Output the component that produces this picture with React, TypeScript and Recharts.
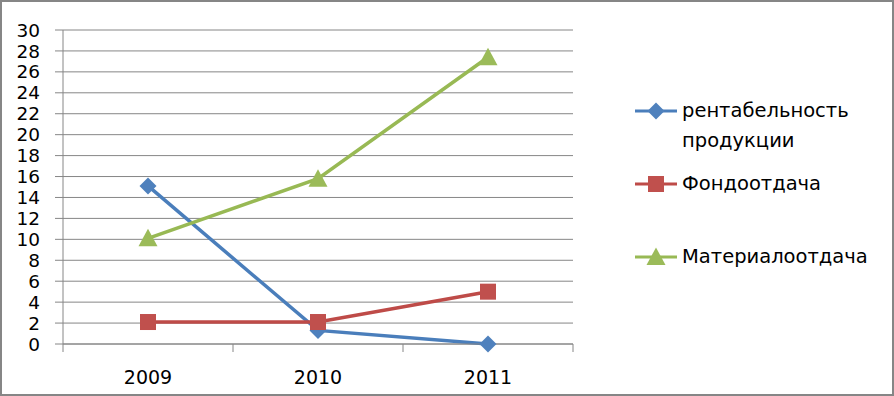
import React from 'react'
import { LineChart, Line, XAxis, YAxis, CartesianGrid } from 'recharts'

// ── Data ─────────────────────────────────────────────────────────────────────
const YEARS = ['2009', '2010', '2011']
const RENTAB = [15.1, 1.3, 0]
const FONDO = [2.1, 2.1, 5.0]
const MATERIAL = [10.1, 15.8, 27.4]
const Y_TICKS = [0, 2, 4, 6, 8, 10, 12, 14, 16, 18, 20, 22, 24, 26, 28, 30]

const NAME_RENTAB = ['рентабельность', 'продукции']
const NAME_FONDO = ['Фондоотдача']
const NAME_MATERIAL = ['Материалоотдача']

// ── Styling ──────────────────────────────────────────────────────────────────
const W = 894
const H = 396
const FONT = '"DejaVu Sans", sans-serif'
const GRID = '#868686'
const TICK_SIZE = 8

type Shape = 'diamond' | 'square' | 'triangle'

const SERIES: { key: string; name: string[]; stroke: string; fill: string; shape: Shape }[] = [
  { key: 'rentab', name: NAME_RENTAB, stroke: '#4A7EBB', fill: '#4F81BD', shape: 'diamond' },
  { key: 'fondo', name: NAME_FONDO, stroke: '#BE4B48', fill: '#C0504D', shape: 'square' },
  { key: 'material', name: NAME_MATERIAL, stroke: '#98B954', fill: '#9BBB59', shape: 'triangle' },
]

// legend rows (top of each entry) – Excel spaces them unevenly
const LEGEND_TOPS = [96, 169, 242]

const data = YEARS.map((year, i) => ({
  year,
  rentab: RENTAB[i],
  fondo: FONDO[i],
  material: MATERIAL[i],
}))

function Marker({ cx, cy, shape, fill }: { cx: number; cy: number; shape: Shape; fill: string }) {
  if (shape === 'diamond') {
    const r = 8.5
    return <polygon points={`${cx},${cy - r} ${cx + r},${cy} ${cx},${cy + r} ${cx - r},${cy}`} fill={fill} />
  }
  if (shape === 'square') {
    return <rect x={cx - 8} y={cy - 8} width={16} height={16} fill={fill} />
  }
  return <polygon points={`${cx},${cy - 9.5} ${cx + 9.5},${cy + 8} ${cx - 9.5},${cy + 8}`} fill={fill} />
}

// category labels centred in their band, tick marks on band edges
function YearTick(props: any) {
  const { x, y, payload, index, visibleTicksCount } = props
  const half = payload?.offset || 85
  const axisY = y - TICK_SIZE
  const last = index === (visibleTicksCount ?? YEARS.length) - 1
  return (
    <g>
      <line x1={x - half} x2={x - half} y1={axisY} y2={axisY + TICK_SIZE} stroke={GRID} />
      {last && <line x1={x + half} x2={x + half} y1={axisY} y2={axisY + TICK_SIZE} stroke={GRID} />}
      <text x={x} y={axisY + 40} textAnchor="middle" fontSize={19} fontFamily={FONT} fill="#000">
        {payload.value}
      </text>
    </g>
  )
}

function LegendBox() {
  return (
    <>
      {SERIES.map((s, i) => (
        <div
          key={s.key}
          style={{ position: 'absolute', left: 633, top: LEGEND_TOPS[i], display: 'flex', alignItems: 'flex-start' }}
        >
          <svg width={46} height={30} style={{ flex: 'none' }}>
            <line x1={2} x2={44} y1={15} y2={15} stroke={s.stroke} strokeWidth={3} />
            <Marker cx={23} cy={15} shape={s.shape} fill={s.fill} />
          </svg>
          <div style={{ fontFamily: FONT, fontSize: 19.5, lineHeight: '30px', color: '#000', marginLeft: 3 }}>
            {s.name.map((line) => (
              <div key={line}>{line}</div>
            ))}
          </div>
        </div>
      ))}
    </>
  )
}

export default function App() {
  return (
    <div
      style={{
        position: 'absolute',
        left: 0,
        top: 0,
        width: W,
        height: H,
        boxSizing: 'border-box',
        border: `2px solid ${GRID}`,
        background: '#fff',
      }}
    >
      <div style={{ position: 'absolute', left: -2, top: -2 }}>
        <LineChart width={W} height={H} data={data} margin={{ top: 30, right: 321, left: 0, bottom: 12 }}>
          <CartesianGrid vertical={false} stroke={GRID} strokeWidth={1} />
          <XAxis
            dataKey="year"
            scale="band"
            axisLine={{ stroke: GRID }}
            tickLine={false}
            tickSize={TICK_SIZE}
            tickMargin={0}
            height={40}
            tick={<YearTick />}
            interval={0}
          />
          <YAxis
            domain={[0, 30]}
            ticks={Y_TICKS}
            interval={0}
            width={63}
            axisLine={{ stroke: GRID }}
            tickLine={{ stroke: GRID }}
            tickSize={TICK_SIZE}
            tickMargin={15}
            tick={{ fill: '#000', fontSize: 18.5, fontFamily: FONT }}
          />
          {SERIES.map((s) => (
            <Line
              key={s.key}
              dataKey={s.key}
              type="linear"
              stroke={s.stroke}
              strokeWidth={3.5}
              isAnimationActive={false}
              dot={(p: any) => <Marker key={`${s.key}-${p.index}`} cx={p.cx} cy={p.cy} shape={s.shape} fill={s.fill} />}
              activeDot={false}
            />
          ))}
        </LineChart>
      </div>
      <div style={{ position: 'absolute', left: -2, top: -2 }}>
        <LegendBox />
      </div>
    </div>
  )
}
